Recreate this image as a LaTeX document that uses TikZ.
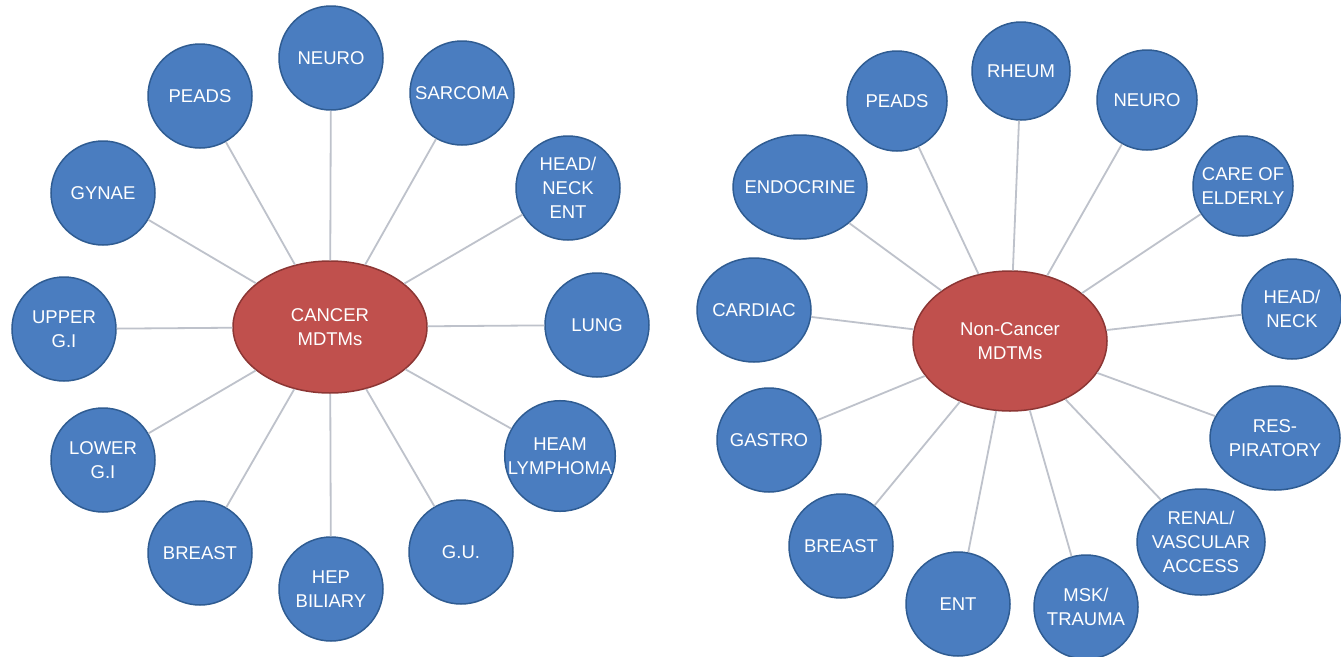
\documentclass[tikz,border=0pt]{standalone}
\usepackage{fontspec}
\setmainfont{Liberation Sans}
\usetikzlibrary{shapes.geometric}
\definecolor{bfill}{HTML}{4A7DC0}
\definecolor{bdraw}{HTML}{2F5C92}
\definecolor{rfill}{HTML}{C0504D}
\definecolor{rdraw}{HTML}{8C3634}
\definecolor{lnk}{HTML}{BEC2CB}
\begin{document}
\begin{tikzpicture}[x=1pt,y=-1pt,
  txt/.style={text=white,font=\fontsize{18.5}{24}\selectfont,align=center,inner sep=0pt},
  bub/.style={txt,circle,fill=bfill,draw=bdraw,line width=1.5pt,minimum size=104pt},
  bell/.style={ellipse,fill=bfill,draw=bdraw,line width=1.5pt,inner sep=0pt,label={[txt]center:#1}},
  hub/.style={ellipse,fill=rfill,draw=rdraw,line width=1.5pt,inner sep=0pt,minimum width=194pt,minimum height=132pt,label={[txt]center:#1}},
  link/.style={draw=lnk,line width=1.8pt}]
\useasboundingbox (0,0) rectangle (1341,656);
\fill[white] (0,0) rectangle (1341,656);
% left hub
\node[hub={CANCER\\MDTMs}] (c1) at (330,327) {};
\node[bub] (l1) at (331,58) {NEURO};
\node[bub] (l2) at (200,96) {PEADS};
\node[bub] (l3) at (462,93) {SARCOMA};
\node[bub] (l4) at (103,193) {GYNAE};
\node[bub] (l5) at (568,188) {HEAD/\\NECK\\ENT};
\node[bub] (l6) at (64,329) {UPPER\\G.I};
\node[bub] (l7) at (597,325) {LUNG};
\node[bub] (l8) at (103,460) {LOWER\\G.I};
\node[bub] (l9) at (560,456) {HEAM\\LYMPHOMA};
\node[bub] (l10) at (200,553) {BREAST};
\node[bub] (l11) at (331,589) {HEP\\BILIARY};
\node[bub] (l12) at (461,552) {G.U.};
% right hub
\node[hub={Non-Cancer\\MDTMs},minimum height=140pt] (c2) at (1010,341) {};
\node[bub,minimum size=98pt] (r1) at (1021,71) {RHEUM};
\node[bub,minimum size=100pt] (r2) at (897,101) {PEADS};
\node[bub,minimum size=100pt] (r3) at (1147,100) {NEURO};
\node[bell={ENDOCRINE},minimum width=134pt,minimum height=104pt] (r4) at (800,187) {};
\node[bub,minimum size=100pt] (r5) at (1243,186) {CARE OF\\ELDERLY};
\node[bell={CARDIAC},minimum width=114pt,minimum height=104pt] (r6) at (754,310) {};
\node[bub,minimum size=100pt] (r7) at (1292,309) {HEAD/\\NECK};
\node[bub] (r8) at (769,440) {GASTRO};
\node[bell={RES-\\PIRATORY},minimum width=130pt,minimum height=104pt] (r9) at (1275,438) {};
\node[bub] (r10) at (841,546) {BREAST};
\node[bell={RENAL/\\VASCULAR\\ACCESS},minimum width=128pt,minimum height=106pt] (r11) at (1201,542) {};
\node[bub] (r12) at (958,604) {ENT};
\node[bub] (r13) at (1086,607) {MSK/\\TRAUMA};
\foreach \i in {1,...,12} {\draw[link] (c1) -- (l\i);}
\foreach \i in {1,...,13} {\draw[link] (c2) -- (r\i);}
\end{tikzpicture}
\end{document}
